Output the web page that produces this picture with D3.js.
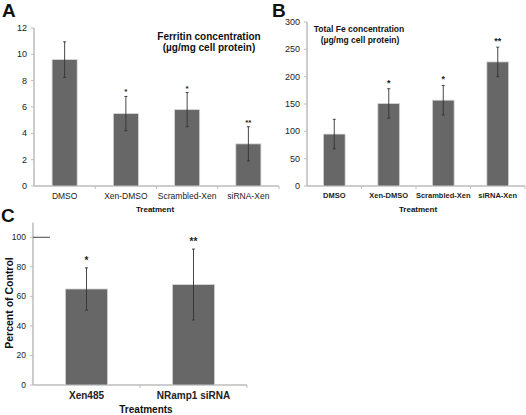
<!DOCTYPE html>
<html><head><meta charset="utf-8">
<script src="https://cdn.jsdelivr.net/npm/d3@7"></script>
<style>
body{margin:0;background:#fff;}
svg{display:block;font-family:"Liberation Sans",Arial,sans-serif;}
</style></head>
<body><svg id="c" width="526" height="415"></svg>
<script>
// Panel A: Ferritin concentration
const catsA = ["DMSO","Xen-DMSO","Scrambled-Xen","siRNA-Xen"];
const valsA = [9.6, 5.5, 5.8, 3.2];
const errA  = [1.35, 1.3, 1.3, 1.3];
const sigA  = ["", "*", "*", "**"];
const ticksA = [0,2,4,6,8,10,12];
// Panel B: Total Fe concentration
const catsB = ["DMSO","Xen-DMSO","Scrambled-Xen","siRNA-Xen"];
const valsB = [95, 151, 157, 227];
const errB  = [27, 27, 27, 27];
const sigB  = ["", "*", "*", "**"];
const ticksB = [0,50,100,150,200,250,300];
// Panel C: Percent of control
const catsC = ["Xen485","NRamp1 siRNA"];
const valsC = [65, 68];
const errC  = [14.3, 24];
const sigC  = ["*", "**"];
const ticksC = [0,20,40,60,80,100];

const svg = d3.select("#c");
const barFill = "#676767", axisCol = "#bdbdbd";

function panel(o){
  const g = svg.append("g");
  const x = d3.scaleBand().domain(o.cats).range(o.xr);
  const y = d3.scaleLinear().domain(o.yd).range(o.yr);
  // y axis
  g.append("line").attr("x1",o.xr[0]).attr("x2",o.xr[0]).attr("y1",o.yr[0]).attr("y2",o.yr[1])
    .attr("stroke",axisCol).attr("stroke-width",1.5);
  o.ticks.forEach(t=>{
    g.append("line").attr("x1",o.xr[0]-3).attr("x2",o.xr[0]).attr("y1",y(t)).attr("y2",y(t)).attr("stroke",axisCol);
    g.append("text").attr("x",o.xr[0]-7).attr("y",y(t)+3).attr("text-anchor","end")
      .attr("font-size",o.yfs).attr("fill","#222").text(t);
  });
  // x axis
  g.append("line").attr("x1",o.xr[0]).attr("x2",o.xr[1]).attr("y1",y(0)).attr("y2",y(0))
    .attr("stroke",axisCol).attr("stroke-width",1.5);
  o.cats.forEach((c,i)=>{
    if(i>0) g.append("line").attr("x1",x(c)).attr("x2",x(c)).attr("y1",y(0)).attr("y2",y(0)+3).attr("stroke",axisCol);
  });
  g.append("line").attr("x1",o.xr[1]).attr("x2",o.xr[1]).attr("y1",y(0)).attr("y2",y(0)+3).attr("stroke",axisCol);
  const bw = x.bandwidth()*o.bf;
  o.cats.forEach((c,i)=>{
    const cx = x(c)+x.bandwidth()/2;
    g.append("rect").attr("x",cx-bw/2).attr("y",y(o.vals[i])).attr("width",bw).attr("height",y(0)-y(o.vals[i]))
      .attr("fill",barFill).attr("stroke","#d8d8d8").attr("stroke-width",0.8);
    const hi=y(o.vals[i]+o.err[i]), lo=y(o.vals[i]-o.err[i]);
    g.append("line").attr("x1",cx).attr("x2",cx).attr("y1",hi).attr("y2",lo).attr("stroke","#333").attr("stroke-width",0.9);
    [hi,lo].forEach(v=>g.append("line").attr("x1",cx-1.5).attr("x2",cx+1.5).attr("y1",v).attr("y2",v).attr("stroke","#333").attr("stroke-width",0.9));
    if(o.sig[i]) g.append("text").attr("x",cx).attr("y",hi-o.sigOff).attr("text-anchor","middle")
      .attr("font-size",o.sigfs).attr("font-weight","bold").attr("fill","#222").text(o.sig[i]);
    g.append("text").attr("x",cx).attr("y",o.xly).attr("text-anchor","middle")
      .attr("font-size",o.xfs).attr("font-weight",o.xbold?"bold":"normal").attr("fill","#222").text(c);
  });
  return {g,x,y};
}

const A = panel({cats:catsA,vals:valsA,err:errA,sig:sigA,ticks:ticksA,xr:[34,279],yd:[0,12],yr:[186,28],
  bf:0.41,yfs:9,xfs:8.5,xbold:false,xly:199,sigfs:8,sigOff:2});
const B = panel({cats:catsB,vals:valsB,err:errB,sig:sigB,ticks:ticksB,xr:[307,525],yd:[0,300],yr:[186,22],
  bf:0.4,yfs:9,xfs:7.5,xbold:true,xly:198,sigfs:9,sigOff:3});
const C = panel({cats:catsC,vals:valsC,err:errC,sig:sigC,ticks:ticksC,xr:[33,247],yd:[0,110],yr:[385,222.5],
  bf:0.395,yfs:8.5,xfs:10,xbold:true,xly:399,sigfs:10,sigOff:4});
// 100% control line in C
C.g.append("line").attr("x1",33).attr("x2",50).attr("y1",C.y(100)).attr("y2",C.y(100)).attr("stroke","#444").attr("stroke-width",1);

// Titles and labels
function txt(x,y,s,fs,w,anchor,extra){
  const t=svg.append("text").attr("x",x).attr("y",y).attr("font-size",fs).attr("font-weight",w||"normal")
    .attr("text-anchor",anchor||"middle").attr("fill","#111").text(s);
  if(extra) extra(t);
  return t;
}
txt(2,17,"A",19,"bold","start");
txt(272,17,"B",19,"bold","start");
txt(1,222,"C",19,"bold","start");
txt(209,40,"Ferritin concentration",10,"bold");
txt(209,51,"(µg/mg cell protein)",10,"bold");
txt(359,32,"Total Fe concentration",8.5,"bold");
txt(360,43,"(µg/mg cell protein)",8.5,"bold");
txt(155,212,"Treatment",8,"bold");
txt(418,212,"Treatment",8,"bold");
txt(146,413,"Treatments",10,"bold");
txt(0,0,"Percent of Control",10.5,"bold","middle",t=>t.attr("transform","translate(13,303) rotate(-90)"));
</script></body></html>
